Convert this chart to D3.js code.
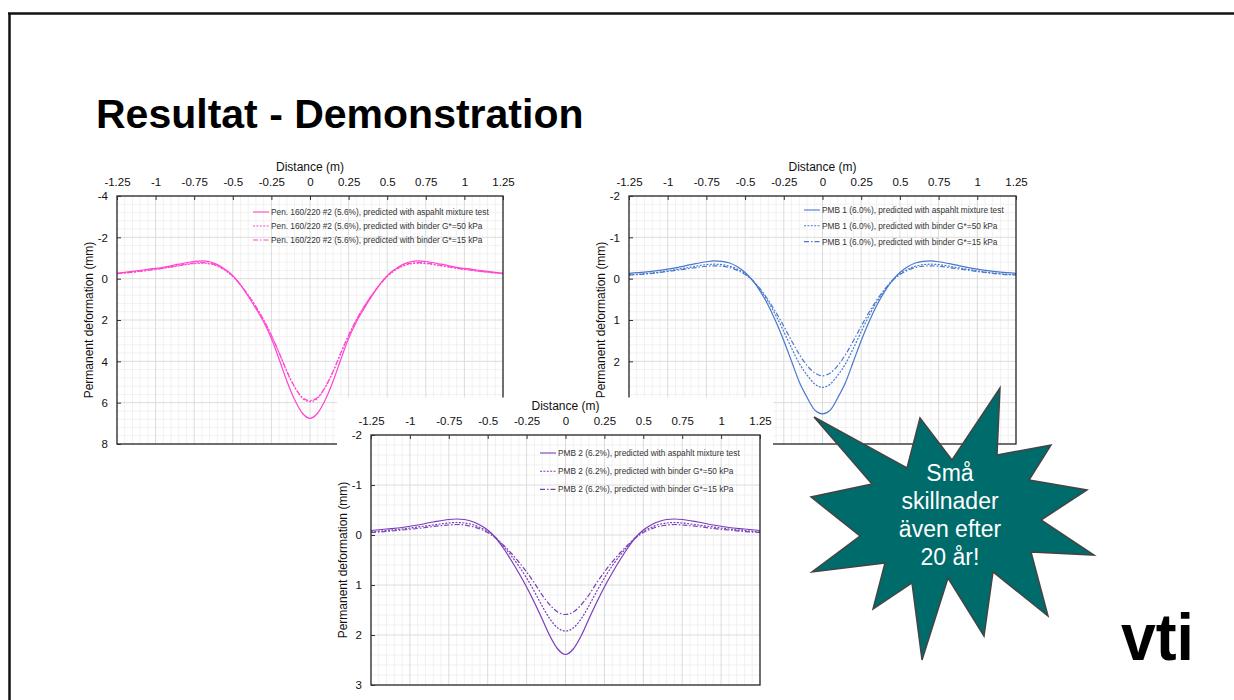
<!DOCTYPE html>
<html>
<head>
<meta charset="utf-8">
<script src="https://cdnjs.cloudflare.com/ajax/libs/d3/7.8.5/d3.min.js"></script>
<style>
    html, body { margin: 0; padding: 0; background: #fff; }
    svg { display: block; font-family: "Liberation Sans", Arial, sans-serif; }
    .grid-minor line { stroke: #f1f1f1; stroke-width: 1; }
    .grid-major line { stroke: #dcdcdc; stroke-width: 1; }
    .axis text { fill: #111; font-size: 11.5px; }
    .axis line { stroke: #333; }
    .axis .domain { display: none; }
    .axis-title { fill: #111; font-size: 12px; }
    .legend text { fill: #333; font-size: 8.3px; }
</style>
</head>
<body>
<svg id="slide" width="1234" height="700"></svg>
<script>
// distance from the wheel path centre (m)
var distance = [-1.25, -1.15, -1.05, -0.95, -0.85, -0.75, -0.7, -0.65, -0.6, -0.55, -0.5,
    -0.45, -0.4, -0.35, -0.3, -0.25, -0.2, -0.15, -0.1, -0.05, 0,
    0.05, 0.1, 0.15, 0.2, 0.25, 0.3, 0.35, 0.4, 0.45, 0.5,
    0.55, 0.6, 0.65, 0.7, 0.75, 0.85, 0.95, 1.05, 1.15, 1.25];

var xTicks = [-1.25, -1, -0.75, -0.5, -0.25, 0, 0.25, 0.5, 0.75, 1, 1.25];

// Pen. 160/220 #2 (5.6%)
var penMixture = [-0.26, -0.35, -0.45, -0.55, -0.70, -0.83, -0.86, -0.82, -0.68, -0.45, -0.15,
    0.30, 0.85, 1.45, 2.10, 2.90, 3.90, 4.95, 5.85, 6.50, 6.76,
    6.50, 5.85, 4.95, 3.90, 2.90, 2.10, 1.45, 0.85, 0.30, -0.15,
    -0.45, -0.68, -0.82, -0.86, -0.83, -0.70, -0.55, -0.45, -0.35, -0.26];
var penBinder50 = [-0.24, -0.31, -0.40, -0.50, -0.62, -0.73, -0.75, -0.72, -0.60, -0.40, -0.10,
    0.30, 0.80, 1.35, 2.00, 2.75, 3.60, 4.50, 5.25, 5.78, 5.95,
    5.78, 5.25, 4.50, 3.60, 2.75, 2.00, 1.35, 0.80, 0.30, -0.10,
    -0.40, -0.60, -0.72, -0.75, -0.73, -0.62, -0.50, -0.40, -0.31, -0.24];
var penBinder15 = [-0.25, -0.32, -0.41, -0.51, -0.64, -0.76, -0.78, -0.75, -0.63, -0.43, -0.12,
    0.30, 0.80, 1.36, 2.00, 2.74, 3.58, 4.47, 5.22, 5.74, 5.90,
    5.74, 5.22, 4.47, 3.58, 2.74, 2.00, 1.36, 0.80, 0.30, -0.12,
    -0.43, -0.63, -0.75, -0.78, -0.76, -0.64, -0.51, -0.41, -0.32, -0.25];
var penYTicks = [-4, -2, 0, 2, 4, 6, 8];

// PMB 1 (6.0%)
var pmb1Mixture = [-0.13, -0.16, -0.20, -0.26, -0.34, -0.41, -0.43, -0.42, -0.38, -0.29, -0.15,
    0.05, 0.32, 0.65, 1.05, 1.50, 2.00, 2.50, 2.87, 3.18, 3.27,
    3.18, 2.87, 2.50, 2.00, 1.50, 1.05, 0.65, 0.32, 0.05, -0.15,
    -0.29, -0.38, -0.42, -0.43, -0.41, -0.34, -0.26, -0.20, -0.16, -0.13];
var pmb1Binder50 = [-0.09, -0.12, -0.16, -0.22, -0.28, -0.34, -0.35, -0.34, -0.30, -0.23, -0.12,
    0.05, 0.28, 0.56, 0.90, 1.28, 1.68, 2.05, 2.33, 2.55, 2.63,
    2.55, 2.33, 2.05, 1.68, 1.28, 0.90, 0.56, 0.28, 0.05, -0.12,
    -0.23, -0.30, -0.34, -0.35, -0.34, -0.28, -0.22, -0.16, -0.12, -0.09];
var pmb1Binder15 = [-0.09, -0.11, -0.15, -0.20, -0.25, -0.30, -0.31, -0.30, -0.27, -0.20, -0.10,
    0.05, 0.26, 0.52, 0.82, 1.15, 1.50, 1.83, 2.10, 2.28, 2.35,
    2.28, 2.10, 1.83, 1.50, 1.15, 0.82, 0.52, 0.26, 0.05, -0.10,
    -0.20, -0.27, -0.30, -0.31, -0.30, -0.25, -0.20, -0.15, -0.11, -0.09];
var pmb1YTicks = [-2, -1, 0, 1, 2, 3, 4];

// PMB 2 (6.2%)
var pmb2Mixture = [-0.09, -0.12, -0.15, -0.20, -0.26, -0.31, -0.32, -0.31, -0.27, -0.20, -0.10,
    0.05, 0.26, 0.50, 0.76, 1.04, 1.35, 1.68, 2.02, 2.28, 2.39,
    2.28, 2.02, 1.68, 1.35, 1.04, 0.76, 0.50, 0.26, 0.05, -0.10,
    -0.20, -0.27, -0.31, -0.32, -0.31, -0.26, -0.20, -0.15, -0.12, -0.09];
var pmb2Binder50 = [-0.06, -0.09, -0.12, -0.16, -0.20, -0.24, -0.25, -0.24, -0.21, -0.15, -0.07,
    0.05, 0.22, 0.41, 0.62, 0.86, 1.13, 1.42, 1.68, 1.86, 1.92,
    1.86, 1.68, 1.42, 1.13, 0.86, 0.62, 0.41, 0.22, 0.05, -0.07,
    -0.15, -0.21, -0.24, -0.25, -0.24, -0.20, -0.16, -0.12, -0.09, -0.06];
var pmb2Binder15 = [-0.05, -0.07, -0.10, -0.13, -0.17, -0.20, -0.21, -0.20, -0.17, -0.12, -0.05,
    0.06, 0.20, 0.36, 0.54, 0.74, 0.96, 1.20, 1.40, 1.54, 1.59,
    1.54, 1.40, 1.20, 0.96, 0.74, 0.54, 0.36, 0.20, 0.06, -0.05,
    -0.12, -0.17, -0.20, -0.21, -0.20, -0.17, -0.13, -0.10, -0.07, -0.05];
var pmb2YTicks = [-2, -1, 0, 1, 2, 3];

var methodSuffixes = [', predicted with aspahlt mixture test',
    ', predicted with binder G*=50 kPa',
    ', predicted with binder G*=15 kPa'];
var dashes = [null, '2,1.4', '5,2,1.5,2'];

var calloutLines = ['Små', 'skillnader', 'även efter', '20 år!'];

// outline of the callout burst, clockwise from the top spike
var burstOutline = [[1000, 388], [997, 455], [1051, 445], [1029, 480], [1087, 490], [1041, 520],
    [1094, 555], [1031, 552], [1048, 616], [993, 572], [984, 636], [948, 578],
    [922, 660], [912, 583], [873, 609], [885, 563], [812, 572], [860, 536],
    [811, 497], [872, 484], [814, 417], [907, 468], [920, 418], [952, 460]];

var charts = [
    {name: 'Pen. 160/220 #2 (5.6%)', color: '#ff45d0', series: [penMixture, penBinder50, penBinder15],
        yTicks: penYTicks, left: 117, right: 503, top: 196, bottom: 444,
        legendX: 253, legendY: 212, legendGap: 14},
    {name: 'PMB 1 (6.0%)', color: '#4a78cc', series: [pmb1Mixture, pmb1Binder50, pmb1Binder15],
        yTicks: pmb1YTicks, left: 629, right: 1016, top: 196, bottom: 444,
        legendX: 804, legendY: 210, legendGap: 15.8},
    {name: 'PMB 2 (6.2%)', color: '#7a3db8', series: [pmb2Mixture, pmb2Binder50, pmb2Binder15],
        yTicks: pmb2YTicks, left: 371, right: 760, top: 435, bottom: 685,
        legendX: 540, legendY: 453, legendGap: 18.2,
        backdrop: {x: 337, y: 397.5, width: 436, height: 303}}
];

function appendSlideFrame(svg) {
    svg.append('line')
        .attr('x1', 8).attr('y1', 13.5).attr('x2', 1234).attr('y2', 13.5)
        .attr('stroke', '#111').attr('stroke-width', 2.5);
    svg.append('line')
        .attr('x1', 9.5).attr('y1', 13).attr('x2', 9.5).attr('y2', 700)
        .attr('stroke', '#111').attr('stroke-width', 2.5);
    svg.append('text')
        .attr('x', 96).attr('y', 128)
        .attr('font-size', 41).attr('font-weight', 'bold').attr('fill', '#000')
        .text('Resultat - Demonstration');
}

// evenly split each major interval into five for the faint grid
function minorValues(ticks) {
    var values = [];
    for (var i = 0; i < ticks.length - 1; i++) {
        var step = (ticks[i + 1] - ticks[i]) / 5;
        for (var k = 1; k < 5; k++) values.push(ticks[i] + k * step);
    }
    return values;
}

function appendDeformationChart(svg, chart) {
    var g = svg.append('g').attr('class', 'chart');

    if (chart.backdrop) {
        g.append('rect')
            .attr('x', chart.backdrop.x).attr('y', chart.backdrop.y)
            .attr('width', chart.backdrop.width).attr('height', chart.backdrop.height)
            .attr('fill', '#fff');
    }

    var x = d3.scaleLinear().domain([xTicks[0], xTicks[xTicks.length - 1]])
        .range([chart.left, chart.right]);
    var y = d3.scaleLinear().domain([chart.yTicks[0], chart.yTicks[chart.yTicks.length - 1]])
        .range([chart.top, chart.bottom]);

    // grids
    var minor = g.append('g').attr('class', 'grid-minor');
    minor.selectAll('line.vx').data(minorValues(xTicks)).enter().append('line')
        .attr('x1', function (d) { return x(d); }).attr('x2', function (d) { return x(d); })
        .attr('y1', chart.top).attr('y2', chart.bottom);
    minor.selectAll('line.hy').data(minorValues(chart.yTicks)).enter().append('line')
        .attr('y1', function (d) { return y(d); }).attr('y2', function (d) { return y(d); })
        .attr('x1', chart.left).attr('x2', chart.right);

    var major = g.append('g').attr('class', 'grid-major');
    major.selectAll('line.vx').data(xTicks.slice(1, -1)).enter().append('line')
        .attr('x1', function (d) { return x(d); }).attr('x2', function (d) { return x(d); })
        .attr('y1', chart.top).attr('y2', chart.bottom);
    major.selectAll('line.hy').data(chart.yTicks.slice(1, -1)).enter().append('line')
        .attr('y1', function (d) { return y(d); }).attr('y2', function (d) { return y(d); })
        .attr('x1', chart.left).attr('x2', chart.right);

    // curves
    var line = d3.line()
        .x(function (d, i) { return x(distance[i]); })
        .y(function (d) { return y(d); })
        .curve(d3.curveMonotoneX);

    g.append('g').selectAll('path.curve')
        .data(chart.series)
        .enter().append('path')
        .attr('class', 'curve')
        .attr('fill', 'none')
        .attr('stroke', chart.color)
        .attr('stroke-width', 1.2)
        .attr('stroke-dasharray', function (d, i) { return dashes[i]; })
        .attr('d', line);

    // plot frame
    g.append('rect')
        .attr('x', chart.left).attr('y', chart.top)
        .attr('width', chart.right - chart.left).attr('height', chart.bottom - chart.top)
        .attr('fill', 'none').attr('stroke', '#222').attr('stroke-width', 1.3);

    // axes with inward ticks
    g.append('g').attr('class', 'axis')
        .attr('transform', 'translate(0,' + chart.top + ')')
        .call(d3.axisTop(x).tickValues(xTicks).tickSizeInner(-4).tickSizeOuter(0)
            .tickPadding(10).tickFormat(function (d) { return String(d); }));
    g.append('g').attr('class', 'axis')
        .attr('transform', 'translate(' + chart.left + ',0)')
        .call(d3.axisLeft(y).tickValues(chart.yTicks).tickSizeInner(-4).tickSizeOuter(0)
            .tickPadding(9).tickFormat(function (d) { return String(d); }));

    g.append('text').attr('class', 'axis-title')
        .attr('x', (chart.left + chart.right) / 2).attr('y', chart.top - 25)
        .attr('text-anchor', 'middle')
        .text('Distance (m)');
    g.append('text').attr('class', 'axis-title')
        .attr('transform', 'translate(' + (chart.left - 28) + ',' + ((chart.top + chart.bottom) / 2) + ') rotate(-90)')
        .attr('text-anchor', 'middle').attr('dy', '0.35em')
        .text('Permanent deformation (mm)');

    // legend
    var legend = g.append('g').attr('class', 'legend')
        .selectAll('g.item')
        .data(methodSuffixes)
        .enter().append('g')
        .attr('class', 'item')
        .attr('transform', function (d, i) {
            return 'translate(' + chart.legendX + ',' + (chart.legendY + i * chart.legendGap) + ')';
        });
    legend.append('line')
        .attr('x1', 0).attr('x2', 16).attr('y1', 0).attr('y2', 0)
        .attr('stroke', chart.color).attr('stroke-width', 1.1)
        .attr('stroke-dasharray', function (d, i) { return dashes[i]; });
    legend.append('text')
        .attr('x', 18).attr('dy', '0.35em')
        .text(function (d) { return chart.name + d; });
}

function appendCallout(svg) {
    svg.append('polygon')
        .attr('points', burstOutline.map(function (p) { return p.join(','); }).join(' '))
        .attr('fill', '#006b6b')
        .attr('stroke', '#444')
        .attr('stroke-width', 1.5)
        .attr('stroke-linejoin', 'miter');
    svg.append('g').selectAll('text')
        .data(calloutLines)
        .enter().append('text')
        .attr('x', 950)
        .attr('y', function (d, i) { return 481 + i * 28; })
        .attr('text-anchor', 'middle')
        .attr('font-size', 23)
        .attr('fill', '#fff')
        .text(function (d) { return d; });
}

function appendLogo(svg) {
    svg.append('text')
        .attr('x', 1121).attr('y', 660)
        .attr('font-size', 66).attr('font-weight', 'bold')
        .attr('fill', '#000')
        .attr('textLength', 73).attr('lengthAdjust', 'spacingAndGlyphs')
        .text('vti');
}

var slide = d3.select('#slide');
appendSlideFrame(slide);
charts.forEach(function (chart) {
    appendDeformationChart(slide, chart);
});
appendCallout(slide);
appendLogo(slide);
</script>
</body>
</html>
